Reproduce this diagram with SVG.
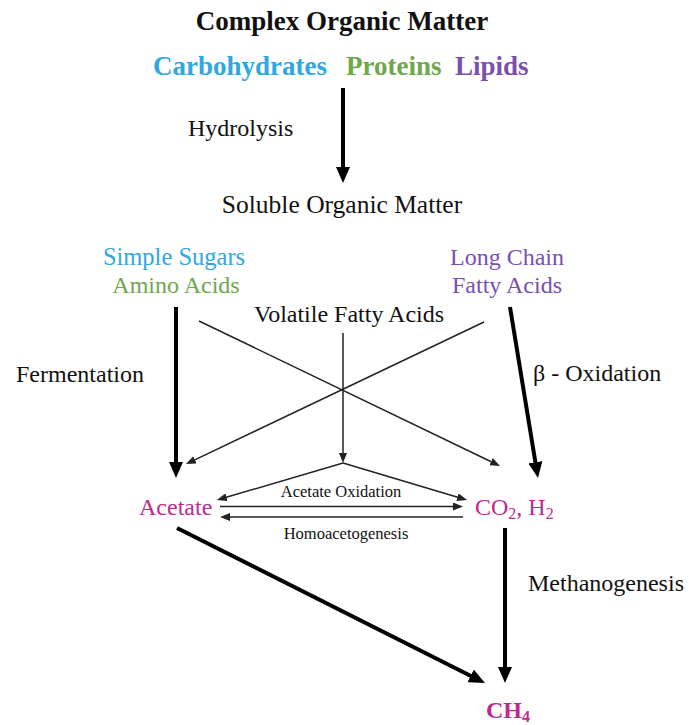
<svg xmlns="http://www.w3.org/2000/svg" width="693" height="725" viewBox="0 0 693 725">
<style>
text{font-family:"Liberation Serif","Times New Roman",serif;fill:#111;}
.t{font-size:27px;font-weight:bold;}
.l{font-size:24px;}
.s{font-size:16.5px;}
.m{fill:#c0288f;}
.blue{fill:#2ea8e0;}
.green{fill:#6ea84a;}
.purple{fill:#7a4fb0;}
.thick{stroke:#000;stroke-width:4;fill:none;marker-end:url(#big);}
.thin{stroke:#222;stroke-width:1.5;fill:none;marker-end:url(#small);}
</style>
<defs>
<marker id="big" markerUnits="userSpaceOnUse" markerWidth="16" markerHeight="14" refX="3" refY="7" orient="auto"><path d="M0,0 L16,7 L0,14 z" fill="#000"/></marker>
<marker id="small" markerUnits="userSpaceOnUse" markerWidth="10" markerHeight="8" refX="2" refY="4" orient="auto"><path d="M0,0 L10,4 L0,8 z" fill="#222"/></marker>
</defs>
<rect width="693" height="725" fill="#fff"/>
<g id="connectors">
<line class="thick" x1="343" y1="88" x2="343" y2="170"/>
<line class="thick" x1="176" y1="307" x2="176" y2="465"/>
<line class="thick" x1="510" y1="307" x2="535.9" y2="465.2"/>
<line class="thick" x1="505" y1="528" x2="505" y2="670"/>
<line class="thick" x1="177" y1="528" x2="473.4" y2="677.2"/>
<line class="thin" x1="199" y1="321" x2="492.8" y2="462.5"/>
<line class="thin" x1="484" y1="322" x2="193.2" y2="460.6"/>
<line class="thin" x1="343" y1="333" x2="343" y2="455"/>
<line class="thin" x1="343" y1="463" x2="224.6" y2="497.8"/>
<line class="thin" x1="343" y1="463" x2="459.4" y2="497.8"/>
<line class="thin" x1="220" y1="506.5" x2="455" y2="506.5"/>
<line class="thin" x1="463" y1="517" x2="228" y2="517"/>
</g>
<g id="complex"><text class="t" x="342" y="30" text-anchor="middle">Complex Organic Matter</text></g>
<g id="substrates">
<text class="t blue" x="153" y="75">Carbohydrates</text>
<text class="t green" x="346" y="75">Proteins</text>
<text class="t purple" x="455" y="75">Lipids</text>
</g>
<g id="hydrolysis"><text class="l" x="188" y="136">Hydrolysis</text></g>
<g id="soluble"><text class="l" x="342" y="213" text-anchor="middle" style="font-size:25.5px">Soluble Organic Matter</text></g>
<g id="sugars">
<text class="l blue" x="174" y="265" text-anchor="middle" style="font-size:24.5px">Simple Sugars</text>
<text class="l green" x="176" y="293" text-anchor="middle">Amino Acids</text>
</g>
<g id="lcfa">
<text class="l purple" x="507" y="265" text-anchor="middle">Long Chain</text>
<text class="l purple" x="507" y="293" text-anchor="middle">Fatty Acids</text>
</g>
<g id="vfa"><text class="l" x="349" y="322" text-anchor="middle">Volatile Fatty Acids</text></g>
<g id="fermentation"><text class="l" x="16" y="382">Fermentation</text></g>
<g id="boxidation"><text class="l" x="533" y="381">β - Oxidation</text></g>
<g id="acetate"><text class="l m" x="139" y="515">Acetate</text></g>
<g id="co2h2"><text class="l m" x="475" y="515">CO<tspan font-size="16" dy="4">2</tspan><tspan dy="-4">, H</tspan><tspan font-size="16" dy="4">2</tspan></text></g>
<g id="acetate-oxidation"><text class="s" x="341" y="497" text-anchor="middle">Acetate Oxidation</text></g>
<g id="homoacetogenesis"><text class="s" x="346" y="539" text-anchor="middle">Homoacetogenesis</text></g>
<g id="methanogenesis"><text class="l" x="528" y="591">Methanogenesis</text></g>
<g id="ch4"><text class="t m" x="486" y="718" style="font-size:24px">CH<tspan font-size="16" dy="4">4</tspan></text></g>
</svg>
